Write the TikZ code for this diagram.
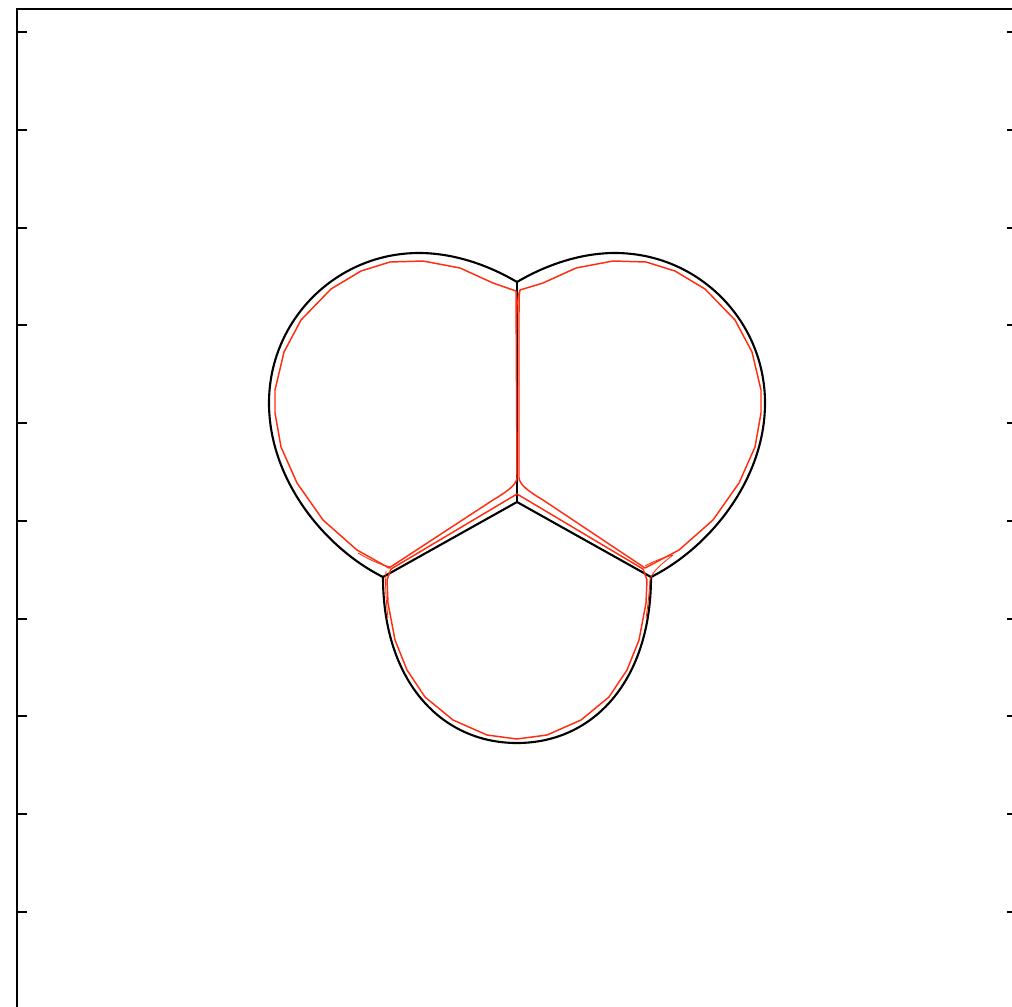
\documentclass[tikz,border=0pt]{standalone}
\definecolor{simred}{RGB}{255,45,15}
\begin{document}
\begin{tikzpicture}[x=0.025cm,y=-0.025cm,
  frameline/.style={black,line width=1.4pt},
  tickline/.style={black,line width=1pt},
  blackfilm/.style={black,line width=1.5pt,line join=round},
  redfilm/.style={simred,line width=1.05pt,line join=round},
  thinred/.style={simred,line width=0.6pt}]
\useasboundingbox (0,0) rectangle (1012,1006);
\clip (0,0) rectangle (1012,1006);
% frame and ticks
\draw[frameline] (17,1012) -- (17,9) -- (1017,9) -- (1017,1012);
\foreach \t in {32,130,228,325,423,521,619,716,814,912}{
  \draw[tickline] (17,\t) -- (27,\t);
  \draw[tickline] (1007,\t) -- (1017,\t);
}
% junctions of the black foam
\coordinate (T) at (517,282);
\coordinate (C) at (517,502);
\coordinate (L) at (383,577);
\coordinate (R) at (651,577);
% black films
\draw[blackfilm] (T) -- (C);
\draw[blackfilm] (C) -- (L);
\draw[blackfilm] (C) -- (R);
\draw[blackfilm] (T) .. controls (490,266) and (455,253) .. (419,253)
  arc[start angle=-90,end angle=-180,radius=150]
  .. controls (269,480) and (325,548) .. (L);
\draw[blackfilm] (T) .. controls (544,266) and (579,253) .. (615,253)
  arc[start angle=-90,end angle=0,radius=150]
  .. controls (765,480) and (709,548) .. (R);
\draw[blackfilm] (L) .. controls (383,680) and (440,743) .. (517,743)
  .. controls (594,743) and (651,680) .. (R);
% red foam
\draw[redfilm] (516,291) -- (493,283) -- (460,268) -- (423,261) -- (390,262) -- (361,271) -- (331,289) -- (301,320) -- (284,352) -- (275,390) -- (275,413) -- (281,447) -- (297,483) -- (323,520) -- (357,550) -- (389,568) -- (493,500) .. controls (508,491) and (516,485) .. (517,478) -- cycle;
\draw[redfilm] (520,290) -- (543,283) -- (576,268) -- (613,261) -- (646,262) -- (675,271) -- (705,289) -- (735,320) -- (752,352) -- (761,390) -- (761,413) -- (755,447) -- (739,483) -- (713,520) -- (679,550) -- (645,568) -- (543,500) .. controls (528,491) and (520,485) .. (519,478) -- (519,320) .. controls (519,302) and (519,294) .. cycle;
\draw[redfilm] (517,494) -- (391,569) -- (387,580) -- (388,603) -- (395,640) -- (407,670) -- (425,697) -- (453,720) -- (487,735) -- (517,739) -- (547,735) -- (581,720) -- (609,697) -- (627,670) -- (639,640) -- (646,603) -- (647,580) -- (643,569) -- cycle;
% small red cusps at the junctions
\draw[thinred] (358,553) .. controls (372,561) and (381,565) .. (391,567);
\draw[thinred] (386,571) .. controls (385,585) and (386,600) .. (388,618);
\draw[thinred] (673,555) .. controls (662,558) and (652,562) .. (645,566);
\draw[thinred] (673,555) .. controls (660,565) and (652,572) .. (650,580) .. controls (649,595) and (648,605) .. (646,618);
\draw[thinred] (519,292) .. controls (517,300) and (517,310) .. (517,330);
\end{tikzpicture}
\end{document}
